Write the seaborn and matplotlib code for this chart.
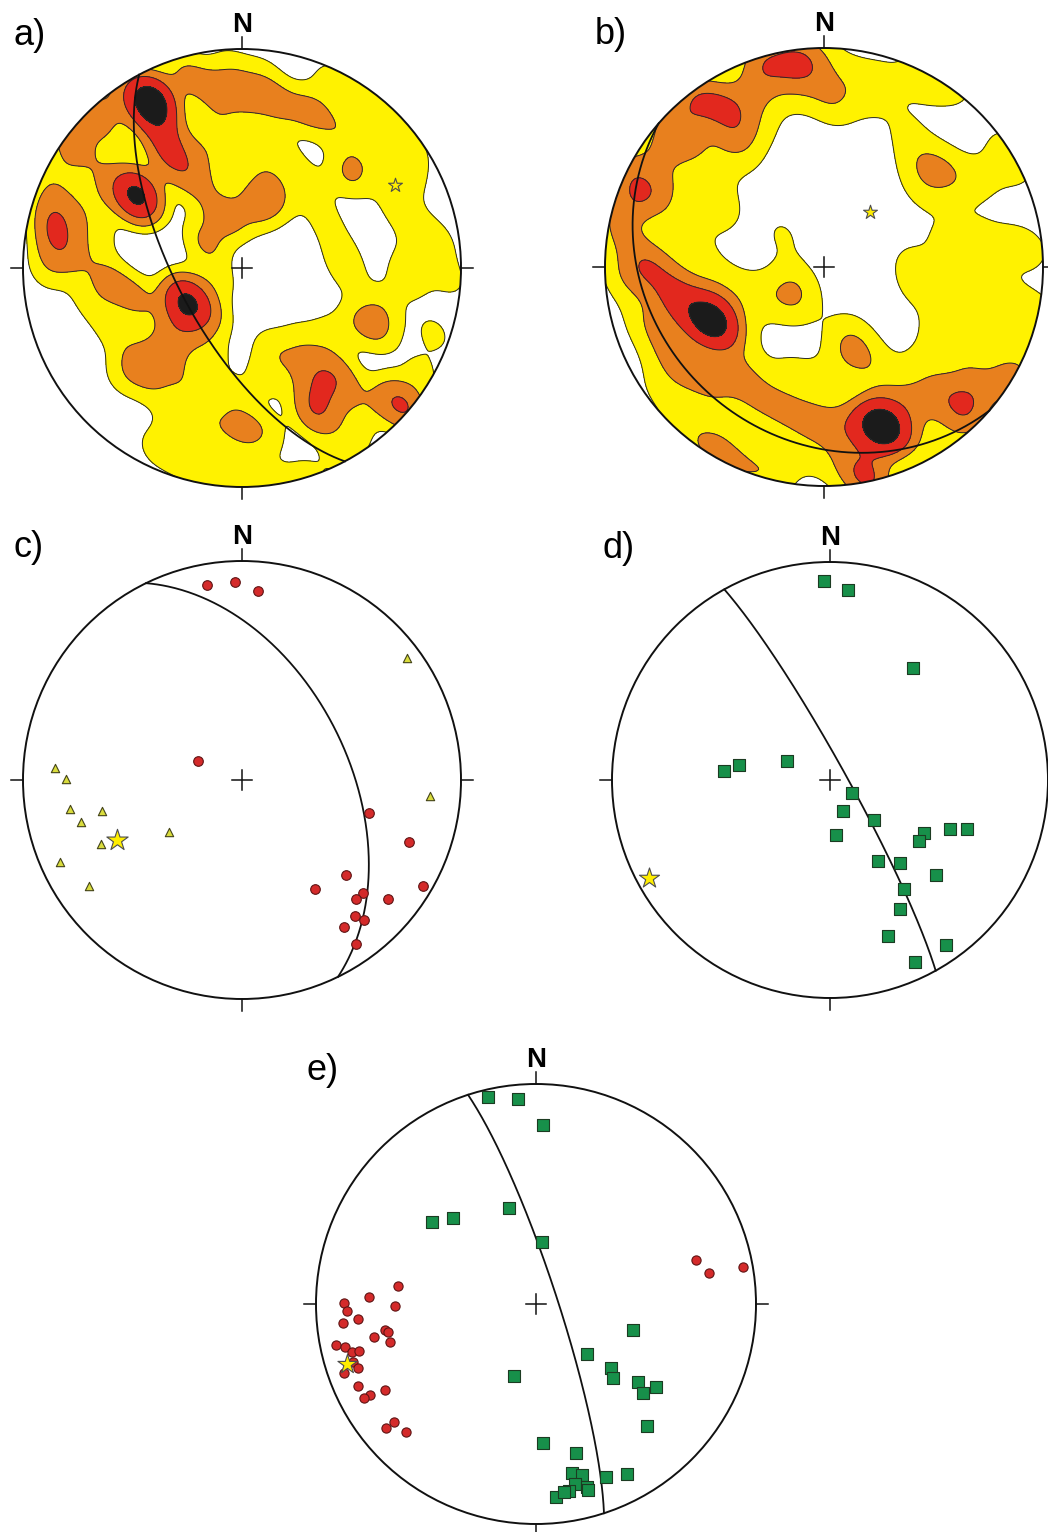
import numpy as np
import pandas as pd
import seaborn as sns
import matplotlib.pyplot as plt
from matplotlib.patches import Circle

# ---- data (unit-circle coords, x east, y north) ----

# a) density of poles, read as clusters of points
a_black = [(-0.42, 0.75), (-0.48, 0.33), (-0.25, -0.16)]
a_red = [(-0.36, 0.60), (-0.32, 0.50), (-0.40, 0.77), (-0.85, 0.18), (0.33, -0.66), (0.75, -0.64)]
a_orange = [(-0.25, 0.88), (-0.12, 0.81), (0.02, 0.78), (0.16, 0.75), (0.30, 0.72), (-0.72, 0.72),
            (-0.80, 0.60), (-0.22, 0.42), (-0.85, 0.28), (-0.85, 0.08), (-0.17, 0.12), (-0.06, 0.22),
            (0.06, 0.28), (0.14, 0.33), (-0.60, -0.06), (-0.48, -0.14), (-0.47, -0.43), (-0.36, -0.40),
            (-0.30, -0.30), (0.36, -0.48), (0.45, -0.50), (0.36, -0.58), (0.01, -0.74), (0.49, 0.43),
            (0.61, -0.27), (0.68, -0.60)]
a_yellow = [(-0.92, 0.45), (-0.80, 0.45), (-0.68, 0.50), (-0.62, 0.38), (-0.70, 0.28), (-0.66, 0.15),
            (-0.74, 0.04), (-0.90, -0.02), (-0.62, 0.62), (-0.55, 0.82), (-0.60, 0.72),
            (-0.70, -0.15), (-0.60, -0.28), (-0.55, -0.50), (-0.40, -0.55), (-0.26, -0.52),
            (-0.14, -0.38), (-0.10, -0.05), (-0.12, -0.22),
            (-0.15, 0.30), (-0.18, 0.56), (-0.10, 0.66), (-0.05, 0.50), (0.08, 0.50), (0.20, 0.50),
            (0.30, 0.38), (0.38, 0.22), (0.45, 0.08), (0.48, -0.02),
            (-0.05, 0.92), (0.10, 0.88), (0.40, 0.86), (0.52, 0.80), (0.62, 0.73), (0.70, 0.62),
            (0.78, 0.52), (0.76, 0.40), (0.62, 0.48), (0.50, 0.60), (0.40, 0.66),
            (0.70, 0.28), (0.80, 0.18), (0.90, 0.12), (0.78, 0.02), (0.95, -0.05), (0.75, -0.05),
            (0.65, -0.17), (0.52, -0.24), (0.40, -0.30), (0.27, -0.33), (0.13, -0.36), (0.88, -0.30),
            (-0.30, -0.72), (-0.18, -0.64), (-0.05, -0.58), (0.10, -0.50), (0.22, -0.44), (0.55, -0.62),
            (0.52, -0.76), (0.45, -0.86), (0.30, -0.95), (0.15, -0.98), (0.00, -0.99), (-0.15, -0.95),
            (-0.28, -0.88), (-0.40, -0.82), (0.12, -0.74), (-0.12, -0.76), (0.82, -0.48)]
a_star = (0.70, 0.38)

# b)
b_black = [(-0.51, -0.25), (0.28, -0.73)]
b_red = [(-0.80, 0.02), (-0.70, -0.10), (-0.62, -0.19), (-0.58, 0.77), (-0.46, 0.74), (-0.28, 0.93),
         (-0.15, 0.94), (-0.86, 0.32), (0.20, -0.72), (0.65, -0.66), (0.22, -0.97)]
b_orange = [(-0.75, 0.55), (-0.62, 0.60), (-0.40, 0.62), (-0.32, 0.80), (-0.05, 0.97), (-0.70, 0.70),
            (-0.88, 0.45), (-0.75, 0.35), (-0.93, 0.15), (-0.90, -0.05), (-0.80, -0.25), (-0.72, -0.38),
            (-0.62, -0.48), (-0.50, -0.55), (-0.38, -0.48),
            (-0.30, -0.60), (-0.18, -0.66), (-0.05, -0.70), (0.08, -0.74), (0.42, -0.62), (0.55, -0.58),
            (0.70, -0.55), (0.85, -0.50),
            (-0.49, 0.28), (0.04, 0.76), (0.52, 0.45), (0.12, -0.39), (0.70, -0.02), (0.80, -0.18),
            (0.61, -0.23), (0.96, -0.23), (0.47, 0.87), (-0.14, -0.14),
            (-0.55, -0.82), (-0.40, -0.90), (-0.25, -0.94), (0.15, -0.95)]
b_yellow = [(-0.05, 0.86), (0.12, 0.88), (0.28, 0.86), (0.20, 0.78), (0.60, 0.82), (0.88, 0.45),
            (0.82, 0.55), (0.38, 0.62), (0.42, 0.48), (0.45, 0.35), (0.60, 0.40), (0.72, 0.40),
            (-0.62, 0.42), (-0.50, 0.48), (-0.38, 0.52), (-0.30, 0.66), (-0.15, 0.80), (-0.66, 0.18),
            (-0.58, 0.05), (-0.48, -0.06), (-0.36, -0.12), (-0.25, -0.14), (-0.12, -0.06), (-0.40, -0.30),
            (-0.19, 0.15),
            (-0.15, -0.48), (0.00, -0.52), (0.12, -0.30), (0.20, -0.42), (0.30, -0.52), (0.45, -0.45),
            (0.40, 0.02), (0.42, -0.10), (0.55, 0.12), (0.70, 0.14), (0.85, 0.10), (0.95, 0.08),
            (0.52, -0.32), (0.65, -0.40), (0.92, -0.45), (0.85, -0.58),
            (-0.65, -0.70), (-0.45, -0.76), (-0.10, -0.86), (0.05, -0.88), (0.45, -0.82), (0.60, -0.78),
            (-0.75, -0.55), (-0.97, 0.25)]
b_star = (0.21, 0.25)

# c)
c_circles_x = [-0.160, -0.033, 0.073, -0.202, 0.578, 0.761, 0.476, 0.826, 0.332, 0.551, 0.522,
               0.667, 0.517, 0.556, 0.464, 0.522]
c_circles_y = [0.890, 0.906, 0.865, 0.088, -0.149, -0.282, -0.434, -0.482, -0.499, -0.514, -0.545,
               -0.545, -0.619, -0.639, -0.670, -0.749]
c_tri_x = [0.753, 0.860, -0.852, -0.804, -0.784, -0.639, -0.737, -0.333, -0.642, -0.830, -0.700]
c_tri_y = [0.556, -0.073, 0.053, 0.005, -0.134, -0.142, -0.193, -0.239, -0.294, -0.376, -0.483]
c_star = (-0.571, -0.274)

# d)
d_sq_x = [-0.028, 0.084, 0.379, -0.486, -0.417, -0.196, 0.100, 0.060, 0.204, 0.028, 0.429, 0.406,
          0.552, 0.629, 0.219, 0.319, 0.485, 0.340, 0.322, 0.265, 0.532, 0.388]
d_sq_y = [0.913, 0.871, 0.514, 0.043, 0.069, 0.087, -0.061, -0.143, -0.184, -0.250, -0.242, -0.281,
          -0.224, -0.227, -0.371, -0.379, -0.437, -0.498, -0.594, -0.716, -0.755, -0.836]
d_star = (-0.828, -0.449)

# e)
e_sq_x = [-0.220, -0.083, 0.030, -0.471, -0.379, -0.123, 0.026, 0.439, 0.230, 0.339, 0.348, 0.465,
          0.544, 0.488, -0.098, 0.503, 0.030, 0.180, 0.162, 0.208, 0.318, 0.412, 0.177, 0.152,
          0.230, 0.238, 0.089, 0.127]
e_sq_y = [0.942, 0.932, 0.814, 0.371, 0.391, 0.436, 0.280, -0.118, -0.227, -0.291, -0.338, -0.353,
          -0.376, -0.406, -0.329, -0.556, -0.632, -0.677, -0.768, -0.776, -0.785, -0.773, -0.818,
          -0.852, -0.833, -0.844, -0.879, -0.856]
e_circles_x = [0.727, 0.786, 0.942, -0.626, -0.759, -0.873, -0.861, -0.641, -0.808, -0.876, -0.686,
               -0.674, -0.735, -0.664, -0.909, -0.868, -0.835, -0.803, -0.830, -0.808, -0.871,
               -0.808, -0.686, -0.755, -0.782, -0.644, -0.683, -0.591]
e_circles_y = [0.200, 0.141, 0.170, 0.080, 0.030, 0.003, -0.030, -0.008, -0.068, -0.088, -0.118,
               -0.129, -0.152, -0.174, -0.186, -0.197, -0.217, -0.212, -0.265, -0.291, -0.314,
               -0.371, -0.391, -0.414, -0.427, -0.535, -0.565, -0.583]
e_star = (-0.858, -0.273)

# great circles: (strike, dip), right-hand rule
planes = {'a': (152, 65.6), 'b': (131, 23), 'c': (334, 50), 'd': (331, 84), 'e': (342, 82)}

class_weight = {'black': 9, 'red': 3, 'orange': 2, 'yellow': 1}
LEVELS = [0.08, 0.48, 0.82, 0.95, 1.0]
FILL = ['#fff200', '#e8801e', '#e2281e', '#1b1b1b']

# ---- figure ----
W, H = 1048, 1532
fig = plt.figure(figsize=(W / 100, H / 100), dpi=100)
PAD = 1.25


def panel(cx, cy, r, label):
    ax = fig.add_axes([(cx - PAD * r) / W, (H - cy - PAD * r) / H, 2 * PAD * r / W, 2 * PAD * r / H])
    ax.set_aspect('equal')
    ax.text(-1.045, 1.06, label, ha='left', va='center', fontsize=26,
            family='Liberation Sans')
    ax.text(0, 1.11, 'N', ha='center', va='center', fontsize=20, fontweight='bold',
            family='Liberation Sans')
    return ax


def great_circle(strike, dip):
    t = np.radians(np.linspace(0, 180, 361))
    s, d = np.radians(strike), np.radians(dip)
    n = np.cos(t) * np.cos(s) + np.sin(t) * np.cos(d) * np.cos(s + np.pi / 2)
    e = np.cos(t) * np.sin(s) + np.sin(t) * np.cos(d) * np.sin(s + np.pi / 2)
    plunge = np.arcsin(np.clip(np.sin(t) * np.sin(d), -1, 1))
    trend = np.arctan2(e, n)
    r = np.sqrt(2) * np.sin((np.pi / 2 - plunge) / 2)
    return r * np.sin(trend), r * np.cos(trend)


def frame(ax, key):
    gx, gy = great_circle(*planes[key])
    ax.plot(gx, gy, color='#111111', lw=1.3, zorder=5)
    ax.add_patch(Circle((0, 0), 1, fill=False, ec='#111111', lw=1.4, zorder=6))
    k = 0.055
    for x0, y0, x1, y1 in [(0, 1, 0, 1 + k), (0, -1, 0, -1 - k), (1, 0, 1 + k, 0), (-1, 0, -1 - k, 0),
                           (-0.045, 0, 0.045, 0), (0, -0.045, 0, 0.045)]:
        ax.plot([x0, x1], [y0, y1], color='#111111', lw=1.1, zorder=6)
    ax.set_xlim(-PAD, PAD)
    ax.set_ylim(-PAD, PAD)
    ax.axis('off')


def density(ax, groups):
    rows = []
    for name, pts in groups.items():
        for x, y in pts:
            rows.append((x, y, class_weight[name]))
    df = pd.DataFrame(rows, columns=['px', 'py', 'w'])
    # color= given so seaborn skips its colour probe; colors= drives the bands
    kw = dict(data=df, x='px', y='py', weights='w', color='k',
              bw_method=0.15, gridsize=300, cut=4, ax=ax)
    sns.kdeplot(fill=True, levels=LEVELS, colors=FILL, **kw)
    sns.kdeplot(fill=False, levels=LEVELS[:-1], colors='#2a2a2a', linewidths=0.7, **kw)
    clip = Circle((0, 0), 1, transform=ax.transData)
    for coll in ax.collections:
        coll.set_clip_path(clip)


def star(ax, pt, size):
    sns.scatterplot(x=[pt[0]], y=[pt[1]], marker='*', s=size, color='#ffee00',
                    edgecolor='#4d4d4d', linewidth=0.8, zorder=8, ax=ax)


# a)
ax = panel(242, 268, 219, 'a)')
density(ax, {'black': a_black, 'red': a_red, 'orange': a_orange, 'yellow': a_yellow})
frame(ax, 'a')
star(ax, a_star, 110)

# b)
ax = panel(824, 267, 219, 'b)')
density(ax, {'black': b_black, 'red': b_red, 'orange': b_orange, 'yellow': b_yellow})
frame(ax, 'b')
star(ax, b_star, 110)

# c)
ax = panel(242, 780, 219, 'c)')
frame(ax, 'c')
sns.scatterplot(x=c_circles_x, y=c_circles_y, marker='o', s=48, color='#d42a2a',
                edgecolor='#5e1414', linewidth=0.8, zorder=7, ax=ax)
sns.scatterplot(x=c_tri_x, y=c_tri_y, marker='^', s=36, color='#d9dc3c',
                edgecolor='#444418', linewidth=0.8, zorder=7, ax=ax)
star(ax, c_star, 260)

# d)
ax = panel(830, 780, 218, 'd)')
frame(ax, 'd')
sns.scatterplot(x=d_sq_x, y=d_sq_y, marker='s', s=72, color='#17904a',
                edgecolor='#1c3b22', linewidth=0.8, zorder=7, ax=ax)
star(ax, d_star, 230)

# e)
ax = panel(536, 1304, 220, 'e)')
frame(ax, 'e')
sns.scatterplot(x=e_sq_x, y=e_sq_y, marker='s', s=68, color='#17904a',
                edgecolor='#1c3b22', linewidth=0.8, zorder=7, ax=ax)
sns.scatterplot(x=e_circles_x, y=e_circles_y, marker='o', s=44, color='#d42a2a',
                edgecolor='#5e1414', linewidth=0.8, zorder=7, ax=ax)
star(ax, e_star, 210)

fig.savefig('out.png', dpi=100)
